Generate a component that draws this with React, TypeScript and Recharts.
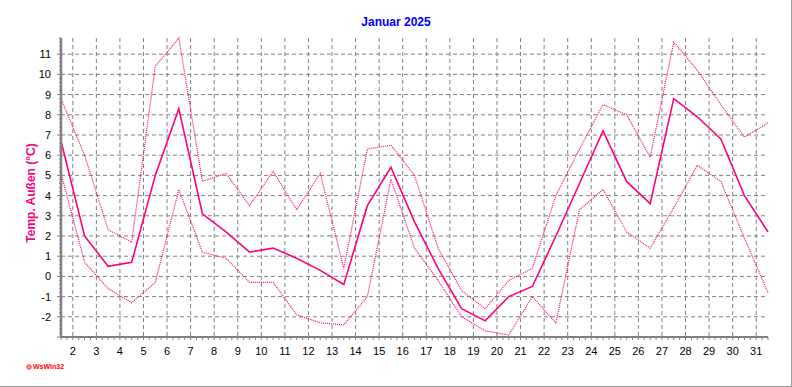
import { CartesianGrid, Line, LineChart, XAxis, YAxis } from "recharts"

// daily values, January 2025 (°C)
const days = [1, 2, 3, 4, 5, 6, 7, 8, 9, 10, 11, 12, 13, 14, 15, 16, 17, 18, 19, 20, 21, 22, 23, 24, 25, 26, 27, 28, 29, 30, 31]
const tempMax = [8.8, 6.0, 2.3, 1.7, 10.4, 11.8, 4.7, 5.1, 3.5, 5.2, 3.3, 5.1, 0.4, 6.3, 6.5, 5.0, 1.4, -0.7, -1.6, -0.2, 0.4, 4.0, 6.3, 8.5, 8.0, 5.9, 11.6, 10.2, 8.5, 6.9, 7.6]
const tempAvg = [6.7, 2.0, 0.5, 0.7, 5.0, 8.3, 3.1, 2.2, 1.2, 1.4, 0.9, 0.3, -0.4, 3.5, 5.4, 2.7, 0.4, -1.6, -2.2, -1.0, -0.5, 2.0, 4.6, 7.2, 4.7, 3.6, 8.8, 7.9, 6.8, 4.0, 2.2]
const tempMin = [5.1, 0.7, -0.6, -1.3, -0.3, 4.3, 1.2, 0.9, -0.3, -0.3, -1.9, -2.3, -2.4, -1.0, 4.8, 1.4, -0.2, -2.0, -2.7, -2.9, -1.0, -2.3, 3.3, 4.3, 2.2, 1.4, 3.4, 5.5, 4.7, 1.9, -0.8]

const xLabels = [2, 3, 4, 5, 6, 7, 8, 9, 10, 11, 12, 13, 14, 15, 16, 17, 18, 19, 20, 21, 22, 23, 24, 25, 26, 27, 28, 29, 30, 31]
const yLabels = [-2, -1, 0, 1, 2, 3, 4, 5, 6, 7, 8, 9, 10, 11]

const X_DOMAIN: [number, number] = [1.5, 31.5]
const Y_DOMAIN: [number, number] = [-3, 11.8]

const PINK = "#ff0080"
const GRID = "#808080"
const FONT = "'Liberation Sans', Arial, sans-serif"

// minor tick positions: 6 hours on x, 0.2 °C on y
const xMinor = Array.from({ length: 121 }, (_, i) => X_DOMAIN[0] + i * 0.25)
const yMinor = Array.from({ length: 75 }, (_, i) => Math.round((Y_DOMAIN[0] + i * 0.2) * 10) / 10)

const isWhole = (v: number) => Math.abs(v - Math.round(v)) < 1e-6

const data = days.map((d, i) => ({
  t: d + 0.5,
  max: tempMax[i],
  avg: tempAvg[i],
  min: tempMin[i],
}))

function XTick(props: any) {
  const { x, y, payload } = props
  const v = payload.value
  return (
    <g>
      <line x1={x} x2={x} y1={y} y2={y + 3} stroke={GRID} />
      {isWhole(v) && xLabels.includes(Math.round(v)) && (
        <text x={x} y={y + 18} textAnchor="middle" fontSize={11} fontFamily={FONT} fill="#000">
          {Math.round(v)}
        </text>
      )}
    </g>
  )
}

function YTick(props: any) {
  const { x, y, payload } = props
  const v = payload.value
  const major = isWhole(v)
  return (
    <g>
      <line x1={x} x2={x - (major ? 4 : 2)} y1={y} y2={y} stroke={GRID} />
      {major && yLabels.includes(Math.round(v)) && (
        <text x={x - 10} y={y + 4} textAnchor="end" fontSize={11} fontFamily={FONT} fill="#000">
          {Math.round(v)}
        </text>
      )}
    </g>
  )
}

export default function App() {
  return (
    <div
      style={{
        position: "absolute",
        left: 0,
        top: 0,
        width: 791,
        height: 386,
        background: "#fff",
        borderRight: "1px solid #a0a0a0",
        borderBottom: "1px solid #a0a0a0",
        fontFamily: FONT,
      }}
    >
      <div
        style={{
          position: "absolute",
          left: 0,
          width: 792,
          top: 15,
          textAlign: "center",
          fontSize: 12,
          fontWeight: "bold",
          color: "#0000ff",
        }}
      >
        Januar 2025
      </div>
      <div
        style={{
          position: "absolute",
          left: 31,
          top: 193,
          transform: "translate(-50%, -50%) rotate(-90deg)",
          whiteSpace: "nowrap",
          fontSize: 12,
          fontWeight: "bold",
          color: PINK,
        }}
      >
        Temp. Außen (°C)
      </div>
      <div
        style={{
          position: "absolute",
          left: 26,
          top: 363,
          display: "flex",
          alignItems: "center",
          gap: 1,
          fontSize: 7,
          fontWeight: "bold",
          color: "#ff0000",
        }}
      >
        <svg width={6} height={6}>
          <circle cx={3} cy={3} r={2.2} fill="none" stroke="#ff0000" strokeWidth={1} />
          <circle cx={3} cy={3} r={0.8} fill="#ff0000" />
        </svg>
        WsWin32
      </div>
      <div style={{ position: "absolute", left: 0, top: 0 }}>
        <LineChart width={792} height={387} data={data} margin={{ top: 38, right: 24, bottom: 0, left: 0 }}>
          <CartesianGrid
            stroke={GRID}
            strokeDasharray="4 3"
            verticalCoordinatesGenerator={({ offset }: any) =>
              xLabels.map((d) => offset.left + ((d - X_DOMAIN[0]) / (X_DOMAIN[1] - X_DOMAIN[0])) * offset.width)
            }
            horizontalCoordinatesGenerator={({ offset }: any) =>
              yLabels.map((v) => offset.top + ((Y_DOMAIN[1] - v) / (Y_DOMAIN[1] - Y_DOMAIN[0])) * offset.height)
            }
          />
          <XAxis
            dataKey="t"
            type="number"
            domain={X_DOMAIN}
            ticks={xMinor}
            interval={0}
            height={50}
            tickSize={0}
            tickMargin={0}
            tickLine={false}
            axisLine={{ stroke: GRID, strokeWidth: 2 }}
            tick={<XTick />}
          />
          <XAxis
            xAxisId="top"
            orientation="top"
            type="number"
            domain={X_DOMAIN}
            height={0}
            tick={false}
            tickLine={false}
            axisLine={{ stroke: "#000", strokeWidth: 1.5 }}
          />
          <YAxis
            type="number"
            domain={Y_DOMAIN}
            ticks={yMinor}
            interval={0}
            width={61}
            tickSize={0}
            tickMargin={0}
            tickLine={false}
            axisLine={{ stroke: GRID, strokeWidth: 2.5 }}
            tick={<YTick />}
          />
          <YAxis
            yAxisId="right"
            orientation="right"
            type="number"
            domain={Y_DOMAIN}
            width={0}
            tick={false}
            tickLine={false}
            axisLine={{ stroke: "#000", strokeWidth: 2 }}
          />
          <Line type="linear" dataKey="max" stroke={PINK} strokeWidth={1.2} strokeDasharray="1 1" dot={false} isAnimationActive={false} />
          <Line type="linear" dataKey="min" stroke={PINK} strokeWidth={1.2} strokeDasharray="1 1" dot={false} isAnimationActive={false} />
          <Line type="linear" dataKey="avg" stroke={PINK} strokeWidth={1.6} dot={false} isAnimationActive={false} />
        </LineChart>
      </div>
    </div>
  )
}
